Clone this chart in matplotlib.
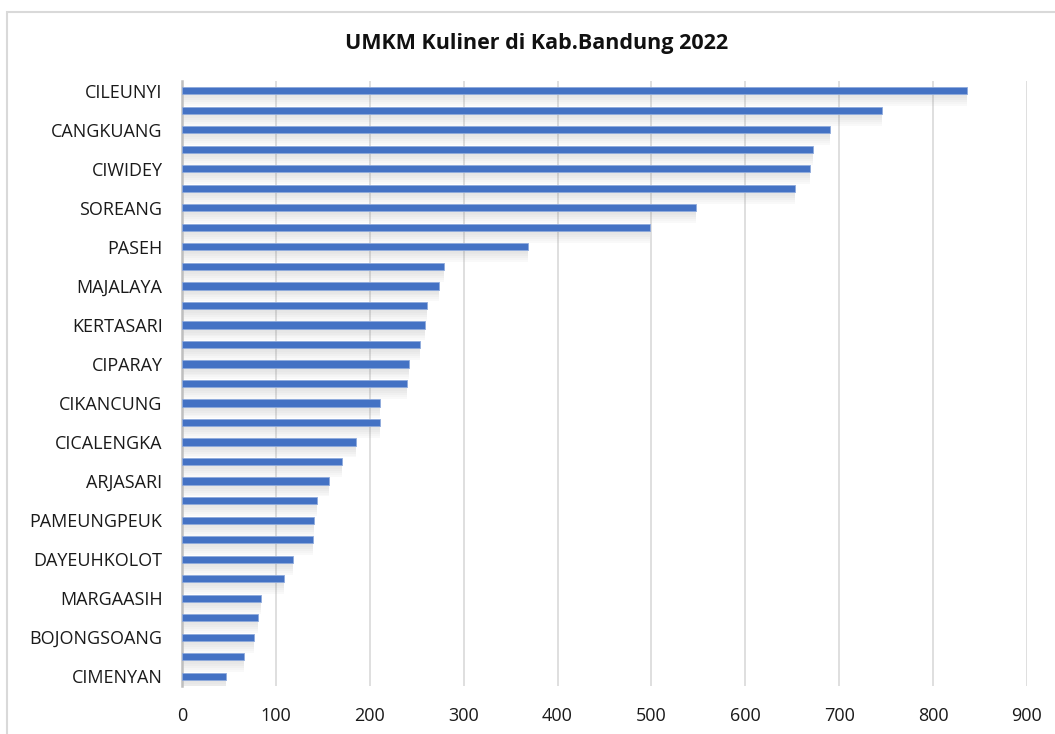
import numpy as np
import matplotlib
matplotlib.use("Agg")
import matplotlib.pyplot as plt
from matplotlib.patches import Rectangle

plt.rcParams['font.family'] = ['Open Sans', 'DejaVu Sans']

# kecamatan, top to bottom (only every other one is labelled in the chart)
kecamatan = ["CILEUNYI", "", "CANGKUANG", "", "CIWIDEY", "", "SOREANG", "",
             "PASEH", "", "MAJALAYA", "", "KERTASARI", "", "CIPARAY", "",
             "CIKANCUNG", "", "CICALENGKA", "", "ARJASARI", "", "PAMEUNGPEUK", "",
             "DAYEUHKOLOT", "", "MARGAASIH", "", "BOJONGSOANG", "", "CIMENYAN"]
jumlah = [836, 746, 690, 672, 669, 653, 547, 498, 369, 279, 274, 261, 259, 253,
          242, 240, 211, 211, 185, 170, 157, 144, 141, 139, 118, 109, 84, 81, 77,
          66, 47]
xticks = [0, 100, 200, 300, 400, 500, 600, 700, 800, 900]

fig = plt.figure(figsize=(10.55, 7.34), dpi=100)
ax = fig.add_axes([182/1055, 1-686/734, (1027-182)/1055, (686-81)/734])

y = np.arange(len(jumlah))
# soft shadow under each bar (excel style)
for off, a in [(0.24, 0.20), (0.34, 0.18), (0.44, 0.15),
               (0.54, 0.11), (0.64, 0.07), (0.74, 0.04)]:
    ax.barh(y + off, jumlah, height=0.1, color="#7f7f7f", alpha=a,
            linewidth=0, zorder=2)
ax.barh(y, jumlah, height=0.37, color="#4472C4", edgecolor="#8FAADC",
        linewidth=0.6, zorder=3)

ax.set_xlim(0, 900)
ax.set_ylim(len(jumlah) - 0.5, -0.5)
ax.set_xticks(xticks)
ax.set_yticks(y[::2])
ax.set_yticklabels(kecamatan[::2])
ax.tick_params(axis="y", length=0, pad=14, labelsize=13, labelcolor="#1a1a1a")
ax.tick_params(axis="x", length=0, pad=15, labelsize=13, labelcolor="#1a1a1a")
ax.grid(axis="x", color="#D9D9D9", linewidth=1.2, zorder=0)
for s in ["top", "right", "bottom"]:
    ax.spines[s].set_visible(False)
ax.spines["left"].set_color("#BFBFBF")
ax.spines["left"].set_linewidth(1.8)

fig.text(537/1055, 1-44/734, "UMKM Kuliner di Kab.Bandung 2022", ha="center",
         va="center", fontsize=15.5, fontweight="bold", color="#111111")

fig.patches.append(Rectangle((7/1055, -0.1), 1.2, 1.1 - 12/734,
                             transform=fig.transFigure, fill=False,
                             edgecolor="#D9D9D9", linewidth=1.5))

fig.savefig("out.png", dpi=100)
